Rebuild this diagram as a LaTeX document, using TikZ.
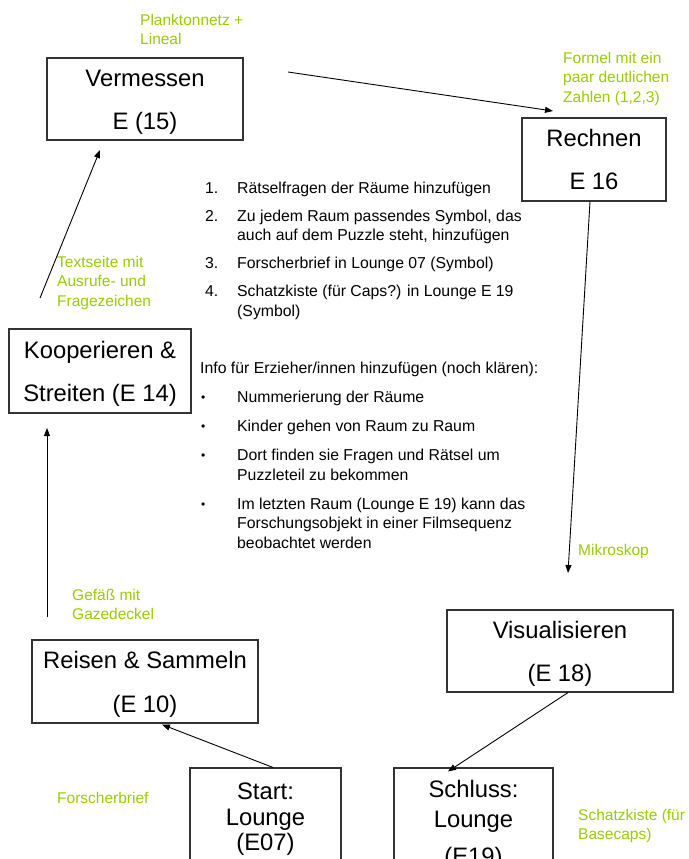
\documentclass[tikz,border=0pt]{standalone}
\usepackage{fontspec}
\setmainfont{Liberation Sans}
\usetikzlibrary{arrows.meta}
\definecolor{gr}{RGB}{153,204,0}
\newcommand\mybul{\raisebox{0.8pt}{\fontsize{12}{12}\selectfont\textbullet}}
\newcommand\mystrut{\rule{0pt}{23pt}}
\begin{document}
\begin{tikzpicture}[x=1pt,y=-1pt,
 box/.style={draw=black!80, line width=1.1pt, rectangle, inner sep=0pt, align=center, font=\fontsize{23.8}{43.5}\selectfont},
 note/.style={text=gr, anchor=north west, inner sep=0pt, align=left, font=\fontsize{15.5}{19.3}\selectfont},
 conn/.style={line width=0.9pt, -{Triangle[length=8pt,width=6pt]}},
 body/.style={anchor=north west, inner sep=0pt, font=\fontsize{15.8}{19.5}\selectfont}]
\useasboundingbox (0,0) rectangle (688,859);
\clip (0,0) rectangle (688,859);
\fill[white] (0,0) rectangle (688,859);

% boxes
\node[box, minimum width=196, minimum height=82] (verm) at (145,99) {\mystrut Vermessen\\E (15)};
\node[box, minimum width=144, minimum height=83] (rech) at (594,159.5) {Rechnen\\E 16};
\node[box, minimum width=182, minimum height=84] (koop) at (100,371) {\mystrut Kooperieren \&\\Streiten (E 14)};
\node[box, minimum width=226, minimum height=83] (reis) at (145,681.5) {\mystrut Reisen \& Sammeln\\(E 10)};
\node[box, minimum width=226, minimum height=82] (vis) at (560,651) {\mystrut Visualisieren\\(E 18)};
\node[box, minimum width=151, minimum height=103, font=\fontsize{23.8}{25.5}\selectfont] (start) at (265.5,819.5) {Start:\\Lounge\\(E07)};
\node[box, minimum width=159, minimum height=113, font=\fontsize{23.8}{26}\selectfont] (schl) at (473.5,824.5) {Schluss:\\[4pt]Lounge\\[11pt](E19)};

% list
\node[body] (todo) at (205,179.4) {\begin{tabular}{@{}p{32pt}@{}l@{}}
1. & Rätselfragen der Räume hinzufügen\\[8.5pt]
2. & Zu jedem Raum passendes Symbol, das\\
 & auch auf dem Puzzle steht, hinzufügen\\[8.5pt]
3. & Forscherbrief in Lounge 07 (Symbol)\\[8.5pt]
4. & Schatzkiste (für Caps?) in Lounge E 19\\
 & (Symbol)
\end{tabular}};

\node[body] (info) at (200,359.4) {\begin{tabular}{@{}p{37pt}@{}l@{}}
\multicolumn{2}{@{}l@{}}{Info für Erzieher/innen hinzufügen (noch klären):}\\[10pt]
\hspace{1pt}\mybul & Nummerierung der Räume\\[9.5pt]
\hspace{1pt}\mybul & Kinder gehen von Raum zu Raum\\[9.5pt]
\hspace{1pt}\mybul & Dort finden sie Fragen und Rätsel um\\
 & Puzzleteil zu bekommen\\[9.5pt]
\hspace{1pt}\mybul & Im letzten Raum (Lounge E 19) kann das\\
 & Forschungsobjekt in einer Filmsequenz\\
 & beobachtet werden
\end{tabular}};

% green notes
\node[note] (n1) at (140,14) {Planktonnetz +\\Lineal};
\node[note] (n2) at (563,52) {Formel mit ein\\paar deutlichen\\Zahlen (1,2,3)};
\node[note] (n3) at (57,256) {Textseite mit\\Ausrufe- und\\Fragezeichen};
\node[note] (n4) at (72,589) {Gefäß mit\\Gazedeckel};
\node[note] (n5) at (57,792) {Forscherbrief};
\node[note] (n6) at (578,544) {Mikroskop};
\node[note] (n7) at (578,809) {Schatzkiste (für\\Basecaps)};

% connectors
\coordinate (a1s) at (288,72);
\coordinate (a1e) at (553,111);
\draw[conn] (a1s) -- (a1e);
\coordinate (a2e) at (568,573);
\draw[conn] ([xshift=-4pt]rech.south) -- (a2e);
\draw[conn] ([xshift=8pt]vis.south) -- ([xshift=-25.5pt,yshift=-4pt]schl.north);
\draw[conn] ([xshift=7.5pt]start.north) -- ([xshift=17pt,yshift=-1pt]reis.south);
\coordinate (a5s) at (47,617);
\coordinate (a5e) at (47,428);
\draw[conn] (a5s) -- (a5e);
\coordinate (a6s) at (40,298);
\coordinate (a6e) at (100,150);
\draw[conn] (a6s) -- (a6e);
\end{tikzpicture}
\end{document}
